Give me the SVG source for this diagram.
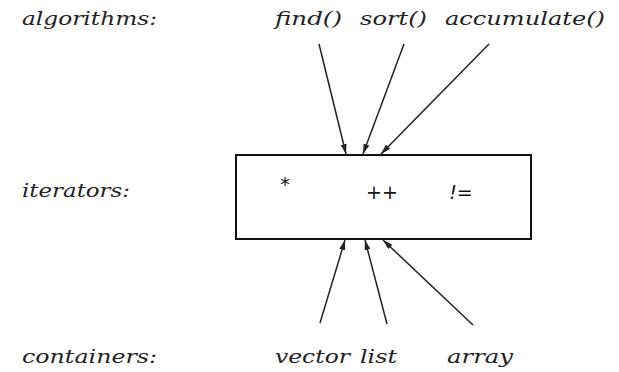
<svg xmlns="http://www.w3.org/2000/svg" width="619" height="372" viewBox="0 0 619 372">
<style>
.lbl{font-family:"DejaVu Serif","Liberation Serif",serif;font-style:italic;font-size:19px;fill:#222}
.op{font-family:"DejaVu Sans","Liberation Sans",sans-serif;font-size:19px;fill:#111}
.conn{stroke:#222;stroke-width:1.5;fill:none;marker-end:url(#ah)}
</style>
<defs>
<marker id="ah" viewBox="0 0 10 6" refX="10" refY="3" markerWidth="10" markerHeight="6" markerUnits="userSpaceOnUse" orient="auto">
<path d="M0,0 L10,3 L0,6 z" fill="#222"/>
</marker>
</defs>
<rect width="619" height="372" fill="#fff"/>
<g id="row-labels">
<text class="lbl" x="22" y="25" textLength="135" lengthAdjust="spacingAndGlyphs">algorithms:</text>
<text class="lbl" x="22" y="197" textLength="108" lengthAdjust="spacingAndGlyphs">iterators:</text>
<text class="lbl" x="22" y="363" textLength="135" lengthAdjust="spacingAndGlyphs">containers:</text>
</g>
<g id="find"><text class="lbl" x="275" y="25" textLength="67" lengthAdjust="spacingAndGlyphs">find()</text></g>
<g id="sort"><text class="lbl" x="360" y="25" textLength="67" lengthAdjust="spacingAndGlyphs">sort()</text></g>
<g id="accumulate"><text class="lbl" x="445" y="25" textLength="160" lengthAdjust="spacingAndGlyphs">accumulate()</text></g>
<g id="iterators">
<rect x="236" y="155" width="295" height="84" fill="#fff" stroke="#111" stroke-width="2"/>
<text class="op" x="285" y="191" font-size="14" fill="#777" text-anchor="middle">*</text>
<text class="op" x="382" y="199" text-anchor="middle">++</text>
<text class="op" x="461" y="199" text-anchor="middle" font-style="italic">!=</text>
</g>
<g id="vector"><text class="lbl" x="275" y="363" textLength="75" lengthAdjust="spacingAndGlyphs">vector</text></g>
<g id="list"><text class="lbl" x="360" y="363" textLength="37" lengthAdjust="spacingAndGlyphs">list</text></g>
<g id="array"><text class="lbl" x="447" y="363" textLength="66" lengthAdjust="spacingAndGlyphs">array</text></g>
<g id="connectors">
<line class="conn" x1="319" y1="44" x2="346" y2="154"/>
<line class="conn" x1="404" y1="44" x2="363" y2="154"/>
<line class="conn" x1="489" y1="44" x2="381" y2="154"/>
<line class="conn" x1="320" y1="323" x2="345" y2="240"/>
<line class="conn" x1="387" y1="324" x2="365" y2="240"/>
<line class="conn" x1="473" y1="325" x2="383" y2="240"/>
</g>
</svg>
